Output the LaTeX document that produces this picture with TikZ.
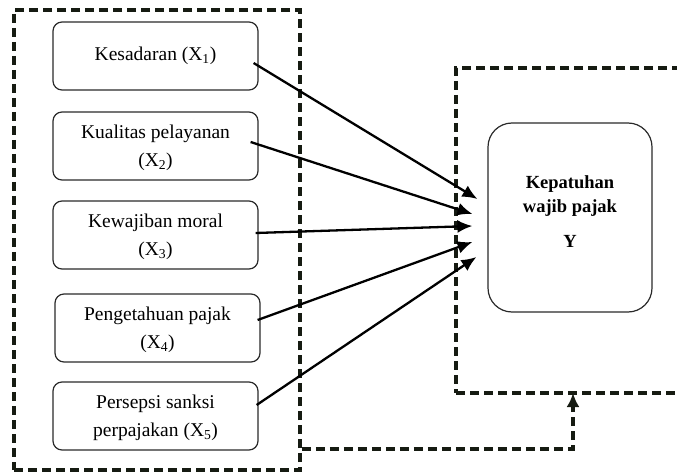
\documentclass[tikz,border=0pt]{standalone}
\usepackage{fontspec}
\setmainfont{Liberation Serif}
\usepackage{tikz}
\usetikzlibrary{positioning,arrows.meta}
\definecolor{dsh}{HTML}{161B12}
\definecolor{edg}{HTML}{2A2A2A}
\newcommand{\Xs}[1]{(X\textsubscript{#1})}

\begin{document}
\begin{tikzpicture}[x=1pt,y=-1pt,
        var/.style={draw=edg,line width=1.2pt,rounded corners=9pt,minimum width=205pt,minimum height=68pt,align=center,
          font=\fontsize{19.5}{28}\selectfont},
        dep/.style={draw=edg,line width=1.2pt,rounded corners=24pt,minimum width=164pt,minimum height=189pt,align=center,
          font=\fontsize{18.5}{24}\selectfont\bfseries},
        grp/.style={draw=dsh,line width=3.6pt,dash pattern=on 9pt off 5pt,minimum width=286pt,minimum height=460pt},
        lnk/.style={-{Latex[length=15pt,width=13pt]},line width=2.3pt},
        fb/.style={draw=dsh,line width=3.6pt,dash pattern=on 9pt off 5pt,-{Latex[length=14pt,width=13pt]}}]
        \useasboundingbox (0,0) rectangle (677,473);
        % groups
        \node[grp] (gx) at (157,240) {};
        \node[grp] (gy) at (578,230.5) [minimum width=244pt,minimum height=325pt] {};
        % variables
        \node[var] (x1) at (155.5,56) {Kesadaran \Xs{1}};
        \node[var] (x2) at (155.5,146) [text depth=-8pt] {Kualitas pelayanan\\\Xs{2}};
        \node[var] (x3) at (155.5,235) [text depth=-8pt] {Kewajiban moral\\\Xs{3}};
        \node[var] (x4) at (157.5,328) [text depth=-8pt] {Pengetahuan pajak\\\Xs{4}};
        \node[var] (x5) at (155.5,416) [text depth=-8pt] {Persepsi sanksi\\perpajakan \Xs{5}};
        \node[dep] (y) at (570,217.5) [text depth=12pt] {Kepatuhan\\wajib pajak\\[11pt]Y};
        % links
        \draw[lnk] ([xshift=-5pt,yshift=-7pt]x1.east) -- ([xshift=-10pt,yshift=18.5pt]y.west);
        \draw[lnk] ([xshift=-8pt,yshift=4pt]x2.east) -- ([xshift=-15pt,yshift=3.5pt]y.west);
        \draw[lnk] ([xshift=-3pt,yshift=2pt]x3.east) -- ([xshift=-15pt,yshift=-8.5pt]y.west);
        \draw[lnk] ([xshift=-3pt,yshift=8pt]x4.east) -- ([xshift=-15pt,yshift=-24.5pt]y.west);
        \draw[lnk] ([xshift=-2pt,yshift=11pt]x5.east) -- ([xshift=-11pt,yshift=-39.5pt]y.west);
        % feedback
        \coordinate (fbt) at (573,393);
        \draw[fb] ([yshift=-209pt]gx.east) -| (fbt);
      \end{tikzpicture}
\end{document}
